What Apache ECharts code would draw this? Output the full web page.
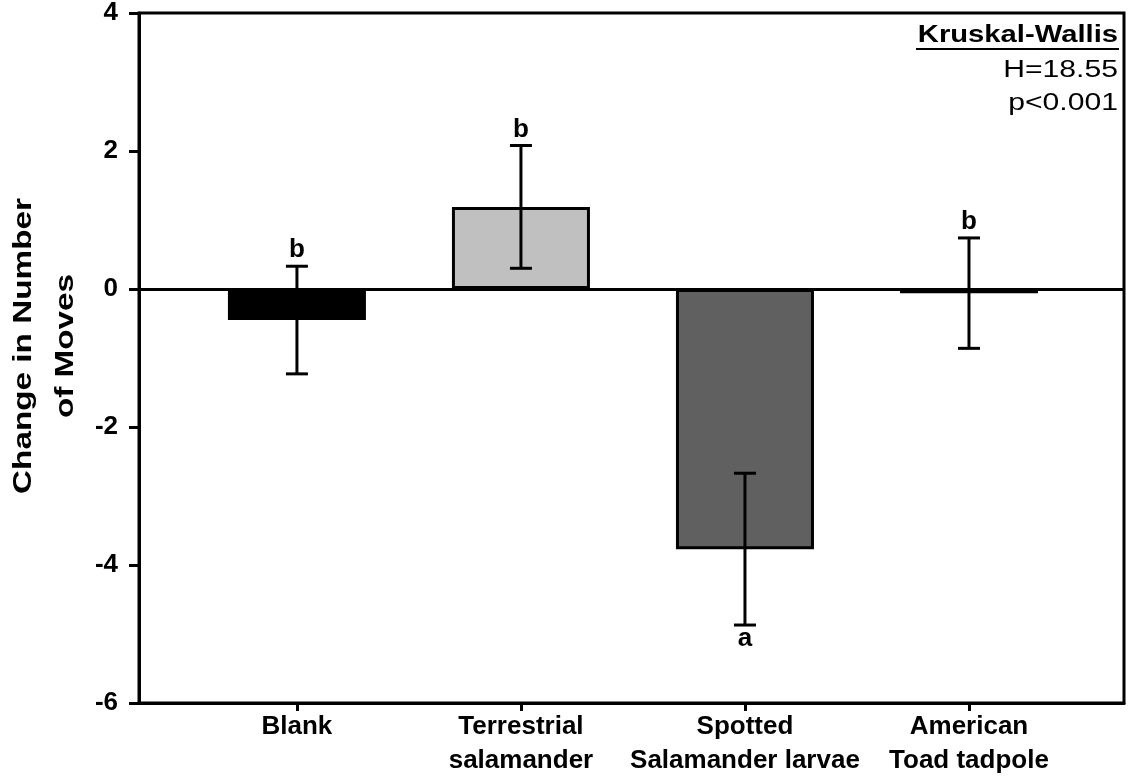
<!DOCTYPE html>
<html>
<head>
<meta charset="utf-8">
<script src="https://cdn.jsdelivr.net/npm/echarts@6/dist/echarts.min.js"></script>
<style>
    html, body { margin: 0; padding: 0; background: #fff; }
    #chart { width: 1130px; height: 778px; }
</style>
</head>
<body>
<div id="chart"></div>
<script>
// Data
var categories = ['Blank', 'Terrestrial\nsalamander', 'Spotted\nSalamander larvae', 'American\nToad tadpole'];
var positions = [1, 2, 3, 4];
var means = [-0.45, 1.19, -3.77, -0.06];
var errors = [0.78, 0.89, 1.10, 0.80];
var letters = ['b', 'b', 'a', 'b'];
var barColors = ['#000000', '#c0c0c0', '#606060', '#000000'];
var yTicks = [-6, -4, -2, 0, 2, 4];

var FONT = '"Liberation Sans", Arial, sans-serif';

var myChart = echarts.init(document.getElementById('chart'), null, { renderer: 'canvas' });

// bar data
var barData = [];
for (var i = 0; i < means.length; i++) {
    barData.push({
        value: [positions[i], means[i]],
        itemStyle: { color: barColors[i], borderColor: '#000', borderWidth: 3 }
    });
}

// error bar data: x, mean, err, index
var errData = [];
for (var i = 0; i < means.length; i++) {
    errData.push([positions[i], means[i], errors[i], i]);
}

function renderErrorBar(params, api) {
    var x = api.value(0);
    var m = api.value(1);
    var e = api.value(2);
    var idx = api.value(3);
    var hi = api.coord([x, m + e]);
    var lo = api.coord([x, m - e]);
    var capW = 11;
    var style = { stroke: '#000', lineWidth: 3 };
    var isBelow = m < -2; // letter goes under the big negative bar
    var txt;
    if (isBelow) {
        txt = { type: 'text', style: { text: letters[idx], x: lo[0], y: lo[1] + 1, align: 'center', verticalAlign: 'top', font: 'bold 26px ' + FONT, fill: '#000' } };
    } else {
        txt = { type: 'text', style: { text: letters[idx], x: hi[0], y: hi[1] - 3, align: 'center', verticalAlign: 'bottom', font: 'bold 26px ' + FONT, fill: '#000' } };
    }
    return {
        type: 'group',
        children: [
            { type: 'line', shape: { x1: hi[0], y1: hi[1], x2: lo[0], y2: lo[1] }, style: style },
            { type: 'line', shape: { x1: hi[0] - capW, y1: hi[1], x2: hi[0] + capW, y2: hi[1] }, style: style },
            { type: 'line', shape: { x1: lo[0] - capW, y1: lo[1], x2: lo[0] + capW, y2: lo[1] }, style: style },
            txt
        ]
    };
}

var option = {
    backgroundColor: '#ffffff',
    animation: false,
    textStyle: { fontFamily: FONT },
    grid: {
        left: 139,
        right: 6,
        top: 13,
        bottom: 75,
        containLabel: false,
        show: true,
        borderColor: '#000',
        borderWidth: 3
    },
    xAxis: {
        type: 'value',
        min: 0.295,
        max: 4.692,
        splitLine: { show: false },
        axisLine: { show: true, onZero: false, lineStyle: { color: '#000', width: 3 } },
        axisTick: {
            show: true,
            inside: false,
            length: 8,
            customValues: positions,
            lineStyle: { color: '#000', width: 3 }
        },
        axisLabel: {
            customValues: positions,
            margin: 7,
            fontSize: 26,
            fontWeight: 'bold',
            lineHeight: 34,
            color: '#000',
            fontFamily: FONT,
            formatter: function (value) { return categories[Math.round(value) - 1]; }
        }
    },
    yAxis: {
        type: 'value',
        min: -6,
        max: 4,
        interval: 2,
        splitLine: { show: false },
        axisLine: { show: true, onZero: false, lineStyle: { color: '#000', width: 3 } },
        axisTick: { show: true, inside: false, length: 10, lineStyle: { color: '#000', width: 3 } },
        axisLabel: {
            margin: 21,
            fontSize: 26,
            fontWeight: 'bold',
            color: '#000',
            fontFamily: FONT,
            customValues: yTicks
        }
    },
    graphic: [
        {
            type: 'text',
            x: 45, y: 346,
            rotation: Math.PI / 2,
            scaleX: 1.28,
            style: {
                text: 'Change in Number\nof Moves',
                align: 'center',
                verticalAlign: 'middle',
                lineHeight: 42,
                font: 'bold 26px ' + FONT,
                fill: '#000'
            }
        },
        {
            type: 'text',
            x: 1118, y: 36,
            scaleX: 1.27,
            style: { text: 'Kruskal-Wallis', align: 'right', verticalAlign: 'middle', font: 'bold 23px ' + FONT, fill: '#000' }
        },
        {
            type: 'line',
            shape: { x1: 916, y1: 49, x2: 1119, y2: 49 },
            style: { stroke: '#000', lineWidth: 2 }
        },
        {
            type: 'text',
            x: 1118, y: 71,
            scaleX: 1.31,
            style: { text: 'H=18.55', align: 'right', verticalAlign: 'middle', font: '23px ' + FONT, fill: '#000' }
        },
        {
            type: 'text',
            x: 1118, y: 104,
            scaleX: 1.31,
            style: { text: 'p<0.001', align: 'right', verticalAlign: 'middle', font: '23px ' + FONT, fill: '#000' }
        }
    ],
    series: [
        {
            name: 'Change',
            type: 'bar',
            barWidth: 138,
            data: barData,
            z: 2,
            markLine: {
                silent: true,
                symbol: ['none', 'none'],
                label: { show: false },
                lineStyle: { color: '#000', width: 3, type: 'solid' },
                data: [{ yAxis: 0 }]
            }
        },
        {
            name: 'SE',
            type: 'custom',
            renderItem: renderErrorBar,
            encode: { x: 0, y: 1 },
            data: errData,
            z: 5
        }
    ]
};

myChart.setOption(option);
</script>
</body>
</html>
